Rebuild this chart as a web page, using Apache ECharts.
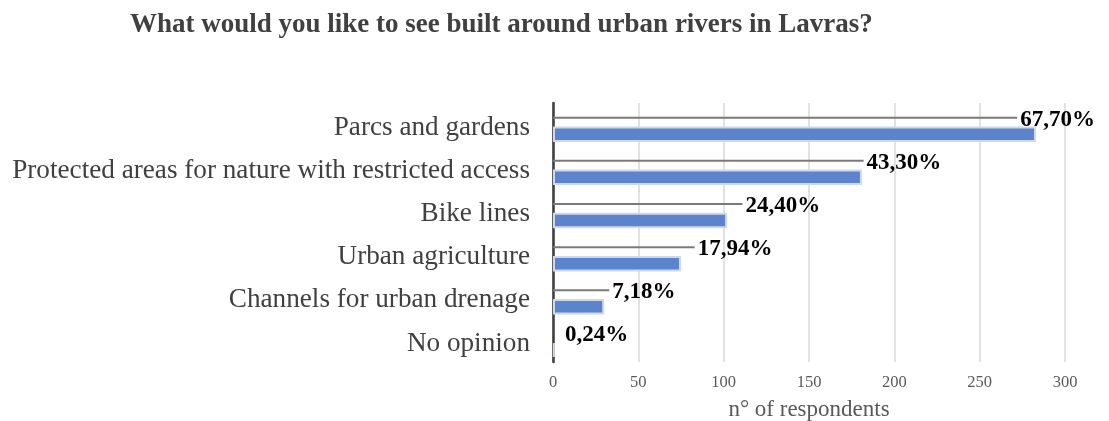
<!DOCTYPE html>
<html>
<head>
<meta charset="utf-8">
<title>Urban rivers in Lavras</title>
<script src="https://cdn.jsdelivr.net/npm/echarts/dist/echarts.min.js"></script>
<style>
  html, body { margin: 0; padding: 0; background: #fff; }
  #chart { width: 1109px; height: 421px; }
</style>
</head>
<body>
<div id="chart"></div>
<script>
// data
const categories = [
  'Parcs and gardens',
  'Protected areas for nature with restricted access',
  'Bike lines',
  'Urban agriculture',
  'Channels for urban drenage',
  'No opinion'
]
const respondents = [283, 181, 102, 75, 30, 1]
const percentLabels = ['67,70%', '43,30%', '24,40%', '17,94%', '7,18%', '0,24%']
// where the grey leader lines end (in respondents)
const leaderEnds = [272, 182, 111, 83, 33, 0]
const xTicks = [0, 50, 100, 150, 200, 250, 300]

const serif = "'Liberation Serif', 'Times New Roman', serif"

const chart = echarts.init(document.getElementById('chart'), null, { renderer: 'canvas' })

const option = {
  animation: false,
  title: {
    text: 'What would you like to see built around urban rivers in Lavras?',
    left: 125,
    top: 7,
    textStyle: {
      fontFamily: serif,
      fontSize: 27,
      fontWeight: 'bold',
      color: '#404040'
    }
  },
  grid: {
    left: 553,
    right: 44,
    top: 103,
    bottom: 59,
    outerBoundsMode: 'none'
  },
  xAxis: {
    type: 'value',
    min: xTicks[0],
    max: xTicks[xTicks.length - 1],
    interval: 50,
    name: 'n° of respondents',
    nameLocation: 'middle',
    nameGap: 36,
    nameTextStyle: { fontFamily: serif, fontSize: 23, color: '#595959' },
    axisLine: { show: false },
    axisTick: { show: false },
    axisLabel: { fontFamily: serif, fontSize: 16.5, color: '#595959', margin: 12 },
    splitLine: { show: true, lineStyle: { color: '#d9d9d9', width: 1.5 } }
  },
  yAxis: {
    type: 'category',
    inverse: true,
    data: categories,
    axisLine: { show: true, lineStyle: { color: '#404040', width: 2.6 } },
    axisTick: { show: false },
    axisLabel: {
      fontFamily: serif,
      fontSize: 27.2,
      color: '#404040',
      margin: 23,
      // a short line box hung from the band centre sits the text ~3px lower
      verticalAlign: 'top',
      lineHeight: 6
    }
  },
  series: [
    {
      // invisible spacer, only nudges the pair of bars down in each band
      type: 'bar',
      silent: true,
      data: respondents,
      barWidth: 1.94,
      barGap: '387.5%',
      itemStyle: { color: 'rgba(0,0,0,0)' }
    },
    {
      type: 'bar',
      silent: true,
      data: leaderEnds.map((v, i) => i === leaderEnds.length - 1
        ? { value: v, label: { distance: 12 } }
        : v),
      barWidth: 2,
      barGap: '387.5%',
      itemStyle: { color: '#7a7a7a' },
      label: {
        show: true,
        position: 'right',
        distance: 3,
        offset: [0, 2],
        fontFamily: serif,
        fontSize: 23,
        fontWeight: 'bold',
        color: '#000',
        formatter: p => percentLabels[p.dataIndex]
      }
    },
    {
      type: 'bar',
      data: respondents,
      barWidth: 15.5,
      barGap: '387.5%',
      itemStyle: {
        color: '#5b84cc',
        borderColor: '#cfd8ea',
        borderWidth: 2
      }
    }
  ]
}

chart.setOption(option)
</script>
</body>
</html>
